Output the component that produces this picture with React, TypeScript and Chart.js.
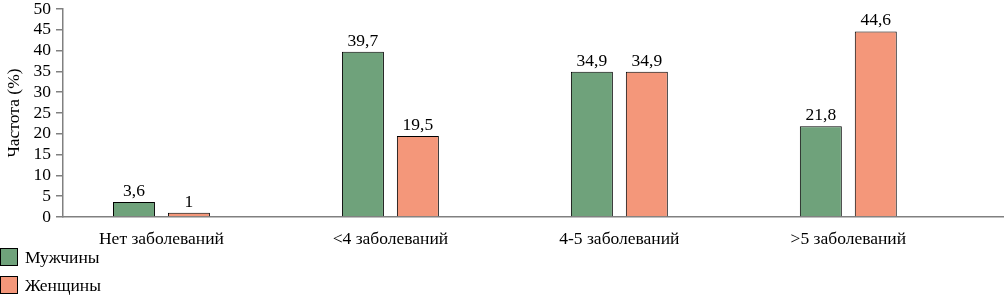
import React, { useEffect, useRef } from "react";
import { Chart, registerables } from "chart.js";

Chart.register(...registerables);

const categories = ["Нет заболеваний", "<4 заболеваний", "4-5 заболеваний", ">5 заболеваний"];
const menValues = [3.6, 39.7, 34.9, 21.8];
const womenValues = [1, 19.5, 34.9, 44.6];
const seriesNames = ["Мужчины", "Женщины"];
const seriesColors = ["#6fa27b", "#f4977a"];
const yTicks = [0, 5, 10, 15, 20, 25, 30, 35, 40, 45, 50];
const yTitle = "Частота (%)";

const FONT = "'Liberation Serif', 'Times New Roman', serif";

const labelPlugin = {
  id: "barLabels",
  afterDatasetsDraw(chart: any) {
    const ctx = chart.ctx;
    ctx.save();
    ctx.font = `17.5px ${FONT}`;
    ctx.fillStyle = "#000";
    ctx.textAlign = "center";
    ctx.textBaseline = "bottom";
    chart.data.datasets.forEach((ds: any, di: number) => {
      const meta = chart.getDatasetMeta(di);
      meta.data.forEach((bar: any, i: number) => {
        const v = ds.data[i].y;
        ctx.fillText(String(v).replace(".", ","), bar.x, bar.y - 2);
      });
    });
    ctx.restore();
  },
};

const toPoints = (vals: number[]) => vals.map((v, i) => ({ x: i, y: v }));

export default function App() {
  const ref = useRef<HTMLCanvasElement>(null);
  useEffect(() => {
    document.body.style.margin = "0";
    const common = {
      borderColor: "#000",
      borderWidth: 1,
      categoryPercentage: 0.48,
      barPercentage: 0.764,
    };
    const chart = new Chart(ref.current!, {
      type: "bar",
      data: {
        datasets: [
          { label: seriesNames[0], data: toPoints(menValues), backgroundColor: seriesColors[0], ...common },
          { label: seriesNames[1], data: toPoints(womenValues), backgroundColor: seriesColors[1], ...common },
        ],
      },
      options: {
        animation: false,
        responsive: false,
        maintainAspectRatio: false,
        layout: { padding: { top: 9, right: 0, left: 0, bottom: 0 } },
        plugins: { legend: { display: false }, tooltip: { enabled: false } },
        scales: {
          x: {
            type: "linear",
            offset: false,
            min: -0.43,
            max: 3.68,
            afterBuildTicks: (s: any) => {
              s.ticks = categories.map((_, i) => ({ value: i }));
            },
            grid: { display: false, drawTicks: false, offset: false },
            border: { color: "#808080", width: 1.5 },
            ticks: {
              color: "#000",
              font: { family: FONT, size: 17.5 },
              padding: 12,
              autoSkip: false,
              maxRotation: 0,
              callback: (v: any) => categories[v] ?? "",
            },
            afterFit: (s: any) => {
              s.height = 33;
              s.paddingLeft = 0;
              s.paddingRight = 0;
            },
          },
          y: {
            min: 0,
            max: 50,
            afterBuildTicks: (s: any) => {
              s.ticks = yTicks.map((v) => ({ value: v }));
            },
            grid: { display: true, drawOnChartArea: false, drawTicks: true, tickLength: 7, color: "#808080", lineWidth: 1.5 },
            border: { color: "#808080", width: 1.5 },
            ticks: { color: "#000", font: { family: FONT, size: 17.5 }, padding: 5, autoSkip: false },
            title: {
              display: true,
              text: yTitle,
              color: "#000",
              font: { family: FONT, size: 17.5 },
              padding: { top: 4, bottom: 0 },
            },
            afterFit: (s: any) => {
              s.width = 63;
              s.paddingTop = 0;
              s.paddingBottom = 0;
            },
          },
        },
      },
      plugins: [labelPlugin],
    });
    return () => chart.destroy();
  }, []);

  return (
    <div style={{ position: "relative", width: 1004, height: 295, fontFamily: FONT }}>
      <canvas ref={ref} width={1004} height={250} style={{ display: "block" }} />
      <div style={{ position: "absolute", left: 0, top: 243 }}>
        {seriesNames.map((n, i) => (
          <div key={n} style={{ display: "flex", alignItems: "center", height: 28 }}>
            <div
              style={{
                width: 18,
                height: 18,
                background: seriesColors[i],
                border: "1px solid #000",
                boxSizing: "border-box",
                marginRight: 7,
              }}
            />
            <span style={{ fontSize: 17.5, color: "#000" }}>{n}</span>
          </div>
        ))}
      </div>
    </div>
  );
}
